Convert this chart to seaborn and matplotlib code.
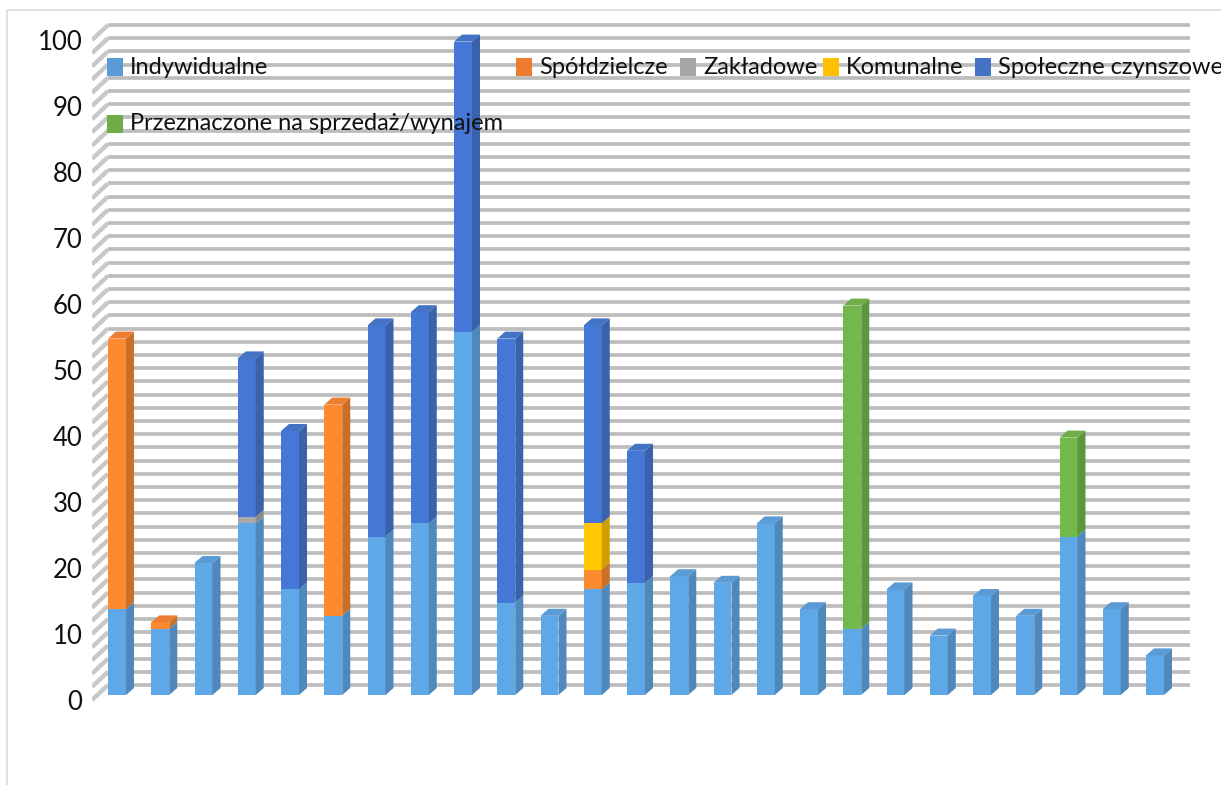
import matplotlib
matplotlib.use("Agg")
from matplotlib import pyplot as plt
import seaborn as sns
import numpy as np

# values, one list per series
indywidualne = [13, 10, 20, 26, 16, 12, 24, 26, 55, 14, 12, 16, 17, 18, 17, 26, 13, 10, 16, 9, 15, 12, 24, 13, 6]
spoldzielcze = [41, 1, 0, 0, 0, 32, 0, 0, 0, 0, 0, 3, 0, 0, 0, 0, 0, 0, 0, 0, 0, 0, 0, 0, 0]
zakladowe = [0, 0, 0, 1, 0, 0, 0, 0, 0, 0, 0, 0, 0, 0, 0, 0, 0, 0, 0, 0, 0, 0, 0, 0, 0]
komunalne = [0, 0, 0, 0, 0, 0, 0, 0, 0, 0, 0, 7, 0, 0, 0, 0, 0, 0, 0, 0, 0, 0, 0, 0, 0]
spoleczne = [0, 0, 0, 24, 24, 0, 32, 32, 44, 40, 0, 30, 20, 0, 0, 0, 0, 0, 0, 0, 0, 0, 0, 0, 0]
sprzedaz = [0, 0, 0, 0, 0, 0, 0, 0, 0, 0, 0, 0, 0, 0, 0, 0, 0, 49, 0, 0, 0, 0, 15, 0, 0]

series = [indywidualne, spoldzielcze, zakladowe, komunalne, spoleczne, sprzedaz]
names = ["Indywidualne", "Spółdzielcze", "Zakładowe", "Komunalne", "Społeczne czynszowe",
         "Przeznaczone na sprzedaż/wynajem"]
front = ["#5fa8e8", "#fd8a2e", "#a8a8a8", "#ffc800", "#4578d6", "#72b84a"]
side = ["#4f88bb", "#c96f27", "#8a8a8a", "#cfa000", "#3a62ab", "#5e9640"]
top = ["#5b9bd5", "#ed7d31", "#a5a5a5", "#ffc000", "#4472c4", "#70ad47"]
swatch = ["#5b9bd5", "#ed7d31", "#a5a5a5", "#ffc000", "#4472c4", "#70ad47"]
legend_px = [(107, 67), (516, 67), (680, 67), (823, 67), (975, 67), (107, 124)]
grid_values = np.arange(0, 101, 2)
tick_values = np.arange(0, 101, 10)

W, H = 1221, 785
PX_X = 43.25  # pixels per category
PX_Y = 6.6  # pixels per unit
BAR_W = 18 / PX_X
DX, DY = 8 / PX_X, 7 / PX_Y  # bar depth
WALL_FRONT = -5 / PX_Y  # front edge of the chart floor
WALL_BACK = 10 / PX_Y  # back wall

sns.set_style("white")
plt.rcParams["font.family"] = ["Lato", "DejaVu Sans"]

fig = plt.figure(figsize=(W / 100, H / 100), dpi=100)
left, right = 92, 1190
bottom_px, top_px = 708.2, 21.8
ax = fig.add_axes([left / W, 1 - bottom_px / H, (right - left) / W, (bottom_px - top_px) / H])
x0 = (left - 117) / PX_X
x1 = (right - 117) / PX_X

# chart area border
fig.add_artist(plt.Line2D([7 / W, 7 / W, 1], [0, 1 - 10 / H, 1 - 10 / H], color="#dcdcdc", lw=1.2))

# back wall and the slanted side wall
back_x = x0 + 16 / PX_X
ax.hlines(grid_values + WALL_BACK, back_x, x1, color="#bdbdbd", lw=2.7, zorder=1)
for v in grid_values:
    ax.plot([x0, back_x], [v + WALL_FRONT, v + WALL_BACK], color="#c8c8c8", lw=3.2, zorder=1,
            solid_capstyle="butt")

# front faces
positions = [str(i) for i in range(len(indywidualne))]
bottoms = np.zeros(len(positions))
for vals, color in zip(series, front):
    sns.barplot(x=positions, y=vals, bottom=bottoms, color=color, width=BAR_W, saturation=1,
                ax=ax, zorder=3, linewidth=0, errorbar=None)
    bottoms = bottoms + np.array(vals)

# side and top faces for the 3d look
bottoms = np.zeros(len(positions))
for vals, c_side in zip(series, side):
    for i, v in enumerate(vals):
        if v == 0:
            continue
        b = bottoms[i]
        xr = i + BAR_W / 2
        ax.fill([xr, xr + DX, xr + DX, xr], [b, b + DY, b + v + DY, b + v], color=c_side, lw=0, zorder=3)
    bottoms = bottoms + np.array(vals)
for i, total in enumerate(bottoms):
    last = [k for k, s in enumerate(series) if s[i] > 0][-1]
    xl = i - BAR_W / 2
    xr = i + BAR_W / 2
    ax.fill([xl, xr, xr + DX, xl + DX], [total, total, total + DY, total + DY], color=top[last], lw=0, zorder=3)

ax.set_xlim(x0, x1)
ax.set_ylim(-2, 102)
ax.set_xticks([])
ax.set_yticks(tick_values + WALL_FRONT)
ax.set_yticklabels([str(v) for v in tick_values], fontsize=18.5, color="#111111")
ax.tick_params(axis="y", length=0, pad=7)
ax.set_xlabel("")
ax.set_ylabel("")
ax.patch.set_alpha(0)
sns.despine(ax=ax, left=True, bottom=True)

# legend, laid out by hand like the original
for (px, py), name, color in zip(legend_px, names, swatch):
    fig.patches.append(plt.Rectangle((px / W, 1 - (py + 9) / H), 16 / W, 18 / H, transform=fig.transFigure,
                                     facecolor=color, edgecolor="none", zorder=5, figure=fig))
    fig.text((px + 23) / W, 1 - py / H, name, fontsize=17, color="#111111", va="center", ha="left", zorder=6)

fig.savefig("out.png", dpi=100)
